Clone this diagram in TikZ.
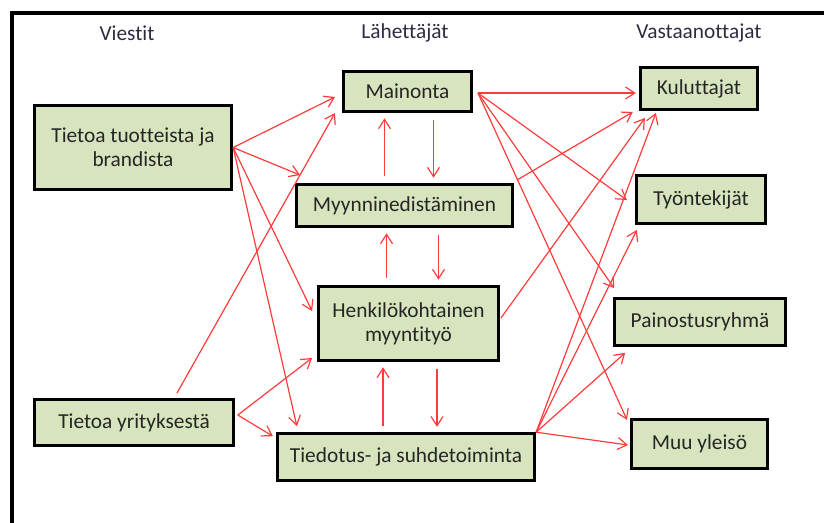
\documentclass[tikz,border=0pt]{standalone}
\usepackage{fontspec}
\setmainfont[Ligatures=NoCommon]{Carlito}
\usetikzlibrary{arrows.meta}
\definecolor{boxgreen}{RGB}{215,228,189}
\definecolor{arrred}{RGB}{255,60,60}
\definecolor{headgray}{RGB}{45,45,65}
\tikzset{
  box/.style={draw=black,line width=2.2pt,fill=boxgreen,align=center,inner sep=0pt,
    font=\fontsize{16}{18}\selectfont,text=black!85},
  head/.style={font=\fontsize{16}{18}\selectfont,text=headgray},
  arr/.style={arrred,line width=0.9pt,-{Straight Barb[length=7pt,width=9pt]}},
  vert/.style={arr,shorten <=5pt,shorten >=4pt}
}
\begin{document}
\begin{tikzpicture}[x=0.75pt,y=-0.75pt]
    \useasboundingbox (0,0) rectangle (824,522);
    \draw[line width=3pt] (12,524) -- (12,12.5) -- (826,12.5);

    \node[head] (viestit) at (127,33) {Viestit};
    \node[head] (lahettajat) at (405,33) {Lähettäjät};
    \node[head] (vastaanottajat) at (699,33) {Vastaanottajat};

    \node[box,minimum width=148pt,minimum height=63pt] (tuot) at (133,147.5) {Tietoa tuotteista ja\\brandista};
    \node[box,minimum width=149pt,minimum height=34.5pt] (yrit) at (134,422.5) {Tietoa yrityksestä};

    \node[box,minimum width=96pt,minimum height=30pt] (main) at (407.5,91.5) {Mainonta};
    \node[box,minimum width=162pt,minimum height=31.5pt] (myyn) at (404.5,205.5) {Myynninedistäminen};
    \node[box,minimum width=135pt,minimum height=55.5pt] (henk) at (408.5,323.5) {Henkilökohtainen\\myyntityö};
    \node[box,minimum width=193pt,minimum height=35pt] (tied) at (406,457) {Tiedotus- ja suhdetoiminta};

    \node[box,minimum width=88pt,minimum height=31.5pt] (kulu) at (699,88.5) {Kuluttajat};
    \node[box,minimum width=97pt,minimum height=36pt] (tyon) at (701,199.5) {Työntekijät};
    \node[box,minimum width=128pt,minimum height=35pt] (pain) at (700,322) {Painostusryhmä};
    \node[box,minimum width=102pt,minimum height=37pt] (muu) at (699.5,444) {Muu yleisö};

    \draw[arr] (tuot.east) -- ([shift={(-7,5.5)}]main.west);
    \draw[arr] (tuot.east) -- ([shift={(5,-8)}]myyn.north west);
    \draw[arr] (tuot.east) -- ([shift={(-5,-12.5)}]henk.west);
    \draw[arr] (tuot.east) -- ([shift={(21,-6)}]tied.north west);
    \draw[arr] ([shift={(43,-5)}]yrit.north) -- ([shift={(-7,0)}]main.south west);
    \draw[arr] ([shift={(3,-7.5)}]yrit.east) -- ([shift={(-5,-4)}]henk.south west);
    \draw[arr] ([shift={(3,-7.5)}]yrit.east) -- ([shift={(-3,4)}]tied.north west);

    \draw[vert] ([shift={(-20,0)}]myyn.north) -- ([shift={(-20,0)}]myyn.north |- main.south);
    \draw[vert] ([shift={(29,0)}]myyn.north |- main.south) -- ([shift={(29,0)}]myyn.north);
    \draw[vert] ([shift={(-22,0)}]henk.north) -- ([shift={(-22,0)}]henk.north |- myyn.south);
    \draw[vert] ([shift={(30,0)}]henk.north |- myyn.south) -- ([shift={(30,0)}]henk.north);
    \draw[vert] ([shift={(-23,0)}]tied.north) -- ([shift={(-23,0)}]tied.north |- henk.south);
    \draw[vert] ([shift={(31,0)}]tied.north |- henk.south) -- ([shift={(31,0)}]tied.north);

    \draw[arr] ([shift={(5,1.5)}]main.east) -- ([shift={(-3,4.5)}]kulu.west);
    \draw[arr] ([shift={(5,1.5)}]main.east) -- ([shift={(-8,0.5)}]tyon.west);
    \draw[arr] ([shift={(5,1.5)}]main.east) -- ([shift={(1,-9)}]pain.north west);
    \draw[arr] ([shift={(5,1.5)}]main.east) -- ([shift={(-3,2)}]muu.north west);
    \draw[arr] ([shift={(3,-3)}]myyn.north east) -- ([shift={(-6,1)}]kulu.south west);
    \draw[arr] ([shift={(1,-5.5)}]henk.east) -- ([shift={(6,7)}]kulu.south west);
    \draw[arr] (tied.north east) -- ([shift={(17,2)}]kulu.south west);
    \draw[arr] (tied.north east) -- ([shift={(2,5)}]tyon.south west);
    \draw[arr] (tied.north east) -- ([shift={(12,6)}]pain.south west);
    \draw[arr] (tied.north east) -- ([shift={(-2,1)}]muu.west);
\end{tikzpicture}
\end{document}
